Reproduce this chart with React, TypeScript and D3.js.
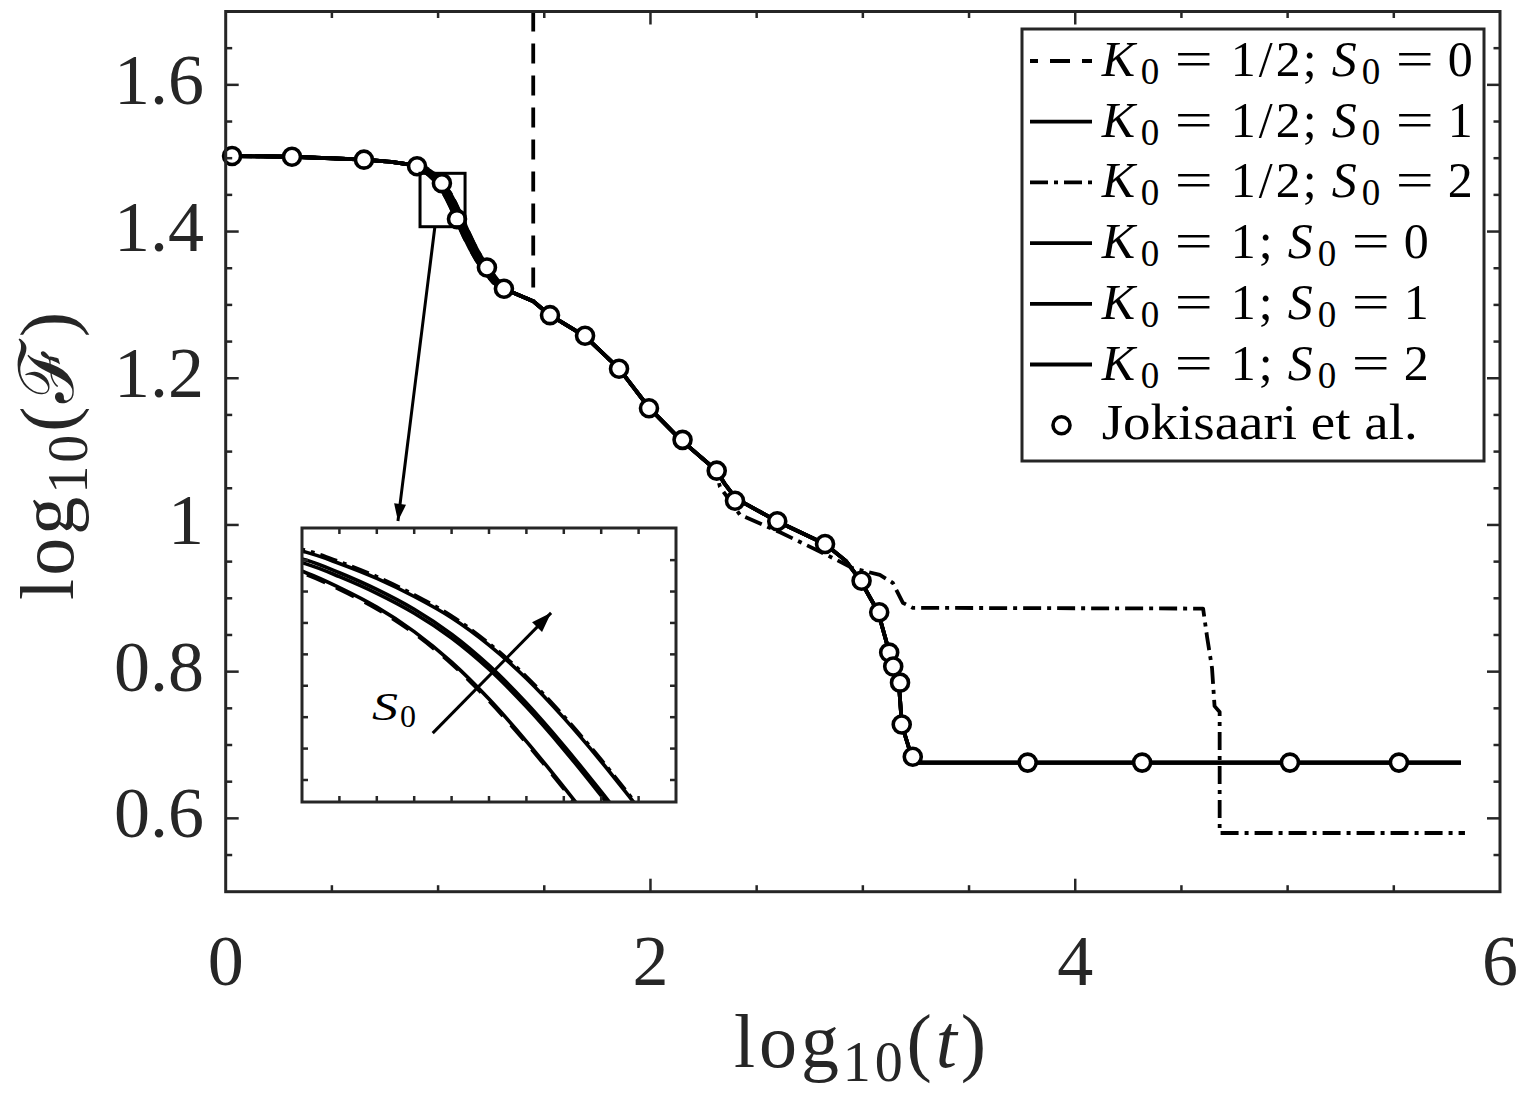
import React from "react";
import * as d3 from "d3";

type Pt = [number, number];

// log10(t) vs log10(F)

// shared flat start, before the S0 curves split
const flatStart: Pt[] = [[0.03, 1.503], [0.312, 1.502], [0.651, 1.498], [0.78, 1.495], [0.86, 1.4915]];

// early decay, one per S0 (K0 = 1)
const earlyK1S0: Pt[] = [[0.9, 1.4875], [0.9421, 1.4806], [0.96, 1.4764], [0.98, 1.4709], [1.0, 1.464], [1.02, 1.4554], [1.04, 1.445], [1.06, 1.4331], [1.08, 1.4202], [1.1, 1.4068], [1.12, 1.394], [1.15, 1.3765], [1.18, 1.3613], [1.22, 1.3443], [1.26, 1.3305]];
const earlyK1S1: Pt[] = [[0.9, 1.4892], [0.9421, 1.4842], [0.96, 1.4806], [0.98, 1.4759], [1.0, 1.4703], [1.02, 1.4633], [1.04, 1.4545], [1.06, 1.4439], [1.08, 1.4319], [1.1, 1.4189], [1.12, 1.4055], [1.14, 1.3927], [1.17, 1.3753], [1.2, 1.3603], [1.24, 1.3435], [1.27, 1.333]];
const earlyK1S2: Pt[] = [[0.9, 1.4908], [0.9421, 1.4864], [0.96, 1.4832], [0.98, 1.479], [1.0, 1.4739], [1.02, 1.4679], [1.04, 1.4602], [1.06, 1.4508], [1.08, 1.4397], [1.1, 1.4274], [1.12, 1.4142], [1.14, 1.401], [1.17, 1.3828], [1.2, 1.3668], [1.24, 1.349], [1.28, 1.3341]];

// early decay, K0 = 1/2
const earlyHalfS0: Pt[] = [[0.9, 1.4871], [0.9421, 1.4801], [0.96, 1.4759], [0.98, 1.4704], [1.0, 1.4635], [1.02, 1.4549], [1.04, 1.4445], [1.06, 1.4326], [1.08, 1.4197], [1.1, 1.4063], [1.12, 1.3935], [1.15, 1.3762], [1.18, 1.3611], [1.22, 1.3442], [1.26, 1.3304]];
const earlyHalfS1: Pt[] = [[0.9, 1.4884], [0.9421, 1.4831], [0.96, 1.4795], [0.98, 1.4748], [1.0, 1.4692], [1.02, 1.4622], [1.04, 1.4534], [1.06, 1.4428], [1.08, 1.4308], [1.1, 1.4178], [1.12, 1.4044], [1.14, 1.3918], [1.17, 1.3746], [1.2, 1.3598], [1.24, 1.3432], [1.27, 1.3328]];
const earlyHalfS2: Pt[] = [[0.9, 1.4912], [0.9421, 1.4869], [0.96, 1.4837], [0.98, 1.4795], [1.0, 1.4744], [1.02, 1.4684], [1.04, 1.4607], [1.06, 1.4513], [1.08, 1.4402], [1.1, 1.4279], [1.12, 1.4147], [1.14, 1.4014], [1.17, 1.3831], [1.2, 1.367], [1.24, 1.3491], [1.28, 1.3342]];

// where all curves coincide
const commonMid: Pt[] = [[1.31, 1.322], [1.448, 1.305], [1.522, 1.287], [1.692, 1.257], [1.852, 1.213], [1.993, 1.16], [2.139, 1.117], [2.308, 1.075], [2.35, 1.056], [2.403, 1.036], [2.596, 1.005], [2.822, 0.974], [2.92, 0.951], [2.987, 0.925], [3.071, 0.882], [3.123, 0.828], [3.142, 0.806], [3.17, 0.782], [3.184, 0.727], [3.231, 0.683], [3.26, 0.676]];
const finalPlateau: Pt[] = [[5.816, 0.676]];

// K0 = 1/2, S0 = 0 blows up
const halfS0BlowUp: Pt[] = [[1.448, 1.75]];
// K0 = 1/2, S0 = 2 leaves the others after t ~ 10^2.3
const halfS2Tail: Pt[] = [[2.327, 1.052], [2.421, 1.014], [2.61, 0.99], [2.831, 0.959], [2.953, 0.941], [3.08, 0.932], [3.141, 0.921], [3.188, 0.894], [3.235, 0.887], [4.602, 0.886], [4.621, 0.847], [4.644, 0.805], [4.656, 0.753], [4.68, 0.745], [4.68, 0.58], [5.835, 0.58]];

// Jokisaari et al.
const jokisaari: Pt[] = [[0.03, 1.503], [0.312, 1.502], [0.651, 1.498], [0.901, 1.489], [1.018, 1.466], [1.089, 1.417], [1.23, 1.351], [1.31, 1.322], [1.527, 1.286], [1.692, 1.258], [1.852, 1.213], [1.993, 1.159], [2.151, 1.116], [2.312, 1.074], [2.398, 1.033], [2.597, 1.005], [2.822, 0.974], [2.994, 0.924], [3.077, 0.881], [3.124, 0.826], [3.143, 0.807], [3.175, 0.785], [3.183, 0.728], [3.235, 0.684], [3.776, 0.676], [4.315, 0.676], [5.011, 0.676], [5.524, 0.676]];

const legendK = ["1/2", "1/2", "1/2", "1", "1", "1"];
const legendS = ["0", "1", "2", "0", "1", "2"];

const xMajor = [0, 2, 4, 6];
const yMajor = [0.6, 0.8, 1, 1.2, 1.4, 1.6];
const yLabels = ["0.6", "0.8", "1", "1.2", "1.4", "1.6"];

const DASH = "20,12";
const DASHDOT = "18,6,4,6";
const INK = "#262626";
const FONT = "'Liberation Serif', 'DejaVu Serif', serif";
const LW = 3.8;

const upTo = (arr: Pt[], xmax: number) => arr.filter(d => d[0] <= xmax);

const seriesList = [
  { data: [...flatStart, ...earlyHalfS0, ...upTo(commonMid, 1.448), ...halfS0BlowUp], dash: DASH },
  { data: [...flatStart, ...earlyHalfS1, ...commonMid, ...finalPlateau], dash: null },
  { data: [...flatStart, ...earlyHalfS2, ...upTo(commonMid, 2.308), ...halfS2Tail], dash: DASHDOT },
  { data: [...flatStart, ...earlyK1S0, ...commonMid, ...finalPlateau], dash: null },
  { data: [...flatStart, ...earlyK1S1, ...commonMid, ...finalPlateau], dash: null },
  { data: [...flatStart, ...earlyK1S2, ...commonMid, ...finalPlateau], dash: null }
];

function arrowHead(x1: number, y1: number, x2: number, y2: number, len: number, half: number) {
  const a = Math.atan2(y2 - y1, x2 - x1);
  const bx = x2 - len * Math.cos(a), by = y2 - len * Math.sin(a);
  const px = -Math.sin(a) * half, py = Math.cos(a) * half;
  return `${x2},${y2} ${bx + px},${by + py} ${bx - px},${by - py}`;
}

function LegendLabel({ x0, base, k, s }: { x0: number; base: number; k: string; s: string }) {
  const wide = k.length === 3;
  const kEnd = x0 + 130 + (wide ? 68 : 24);
  const sx = kEnd + 32;
  const t = { fontFamily: FONT, fill: "#000" };
  return (
    <g>
      <text x={x0} y={base} fontSize={50} fontStyle="italic" {...t}>K</text>
      <text x={x0 + 39} y={base + 8} fontSize={37} {...t}>0</text>
      <text x={x0 + 73} y={base} fontSize={50} textLength={38} lengthAdjust="spacingAndGlyphs" {...t}>=</text>
      {wide ? (
        <text x={x0 + 129} y={base} fontSize={50} textLength={70} lengthAdjust="spacing" {...t}>{k}</text>
      ) : (
        <text x={x0 + 129} y={base} fontSize={50} {...t}>{k}</text>
      )}
      <text x={kEnd + 3} y={base} fontSize={50} {...t}>;</text>
      <text x={sx} y={base} fontSize={50} fontStyle="italic" {...t}>S</text>
      <text x={sx + 30} y={base + 8} fontSize={37} {...t}>0</text>
      <text x={sx + 64} y={base} fontSize={50} textLength={38} lengthAdjust="spacingAndGlyphs" {...t}>=</text>
      <text x={sx + 116} y={base} fontSize={50} {...t}>{s}</text>
    </g>
  );
}

export default function App() {
  const width = 1524, height = 1104;

  const x = d3.scaleLinear().domain([0, 6]).range([225.7, 1500]);
  const y = d3.scaleLinear().domain([0.5, 1.7]).range([891.7, 11.5]);

  const line = d3.line<Pt>().x(d => x(d[0])).y(d => y(d[1]));

  // inset: magnified view of the early decay
  const ix = d3.scaleLinear().domain([0.94, 1.14]).range([302, 676]);
  const iy = d3.scaleLinear().domain([1.416, 1.4932]).range([802, 528]);
  const iline = d3.line<Pt>().x(d => ix(d[0])).y(d => iy(d[1])).curve(d3.curveCatmullRom.alpha(0.5));
  const iXTicks = d3.range(0.96, 1.135, 0.02);
  const iYTicks = d3.range(1.4222, 1.49, 0.00885);

  const xMinor = d3.range(0.5, 6, 0.5).filter(v => !xMajor.includes(v));
  const yMinor = d3.range(0.55, 1.69, 0.05).filter(v => !yMajor.some(m => Math.abs(m - v) < 1e-6));

  const [x0, x1] = x.range();
  const [yb, yt] = y.range();

  const ticksX = (vals: number[], len: number) =>
    vals.map(v => (
      <g key={`x${v}-${len}`}>
        <line x1={x(v)} x2={x(v)} y1={yb} y2={yb - len} />
        <line x1={x(v)} x2={x(v)} y1={yt} y2={yt + len} />
      </g>
    ));
  const ticksY = (vals: number[], len: number) =>
    vals.map(v => (
      <g key={`y${v}-${len}`}>
        <line x1={x0} x2={x0 + len} y1={y(v)} y2={y(v)} />
        <line x1={x1} x2={x1 - len} y1={y(v)} y2={y(v)} />
      </g>
    ));

  // zoom box and arrows (annotation)
  const box = { x: [0.915, 1.127], y: [1.4066, 1.4794] };
  const arrowMain = { from: [0.985, 1.4066], to: [0.811, 1.0054] };
  const arrowInset = { from: [1.0099, 1.4354], to: [1.0732, 1.4693] };

  const am = [x(arrowMain.from[0]), y(arrowMain.from[1]), x(arrowMain.to[0]), y(arrowMain.to[1])];
  const ai = [ix(arrowInset.from[0]), iy(arrowInset.from[1]), ix(arrowInset.to[0]), iy(arrowInset.to[1])];

  const legX = 1022, legY = 29, legW = 462, legH = 432;
  const rowH = 60.7, row0 = 61;

  return (
    <svg width={width} height={height} style={{ position: "absolute", left: 0, top: 0, background: "#fff" }}>
      <defs>
        <clipPath id="plotClip">
          <rect x={x0} y={yt} width={x1 - x0} height={yb - yt} />
        </clipPath>
        <clipPath id="insetClip">
          <rect x={302} y={528} width={374} height={274} />
        </clipPath>
      </defs>
      <rect x={0} y={0} width={width} height={height} fill="#fff" />

      {/* curves */}
      <g clipPath="url(#plotClip)" fill="none" stroke="#000" strokeWidth={LW} strokeLinejoin="round">
        {seriesList.map((s, i) => (
          <path key={i} d={line(s.data) || ""} strokeDasharray={s.dash || undefined} />
        ))}
      </g>
      <g fill="#fff" stroke="#000" strokeWidth={3.6}>
        {jokisaari.map((d, i) => (
          <circle key={i} cx={x(d[0])} cy={y(d[1])} r={8.5} />
        ))}
      </g>

      {/* zoom box + arrow */}
      <rect x={x(box.x[0])} y={y(box.y[1])} width={x(box.x[1]) - x(box.x[0])} height={y(box.y[0]) - y(box.y[1])}
        fill="none" stroke="#000" strokeWidth={3} />
      <line x1={am[0]} y1={am[1]} x2={am[2]} y2={am[3]} stroke="#000" strokeWidth={3} />
      <polygon points={arrowHead(am[0], am[1], am[2], am[3], 17, 6)} fill="#000" />

      {/* inset */}
      <rect x={302} y={528} width={374} height={274} fill="#fff" />
      <g clipPath="url(#insetClip)" fill="none" stroke="#000" strokeWidth={3.6}>
        {seriesList.map((s, i) => (
          <path key={i} d={iline(s.data.filter(d => d[0] > 0.85 && d[0] < 1.3)) || ""} strokeDasharray={s.dash || undefined} />
        ))}
      </g>
      <g stroke={INK} strokeWidth={2.5}>
        {iXTicks.map(v => (
          <g key={`ix${v}`}>
            <line x1={ix(v)} x2={ix(v)} y1={802} y2={796} />
            <line x1={ix(v)} x2={ix(v)} y1={528} y2={534} />
          </g>
        ))}
        {iYTicks.map(v => (
          <g key={`iy${v}`}>
            <line x1={302} x2={308} y1={iy(v)} y2={iy(v)} />
            <line x1={676} x2={670} y1={iy(v)} y2={iy(v)} />
          </g>
        ))}
      </g>
      <rect x={302} y={528} width={374} height={274} fill="none" stroke={INK} strokeWidth={3} />
      <line x1={ai[0]} y1={ai[1]} x2={ai[2]} y2={ai[3]} stroke="#000" strokeWidth={3} />
      <polygon points={arrowHead(ai[0], ai[1], ai[2], ai[3], 20, 7)} fill="#000" />
      <text x={372} y={720} fontSize={39} fontStyle="italic" fontFamily={FONT} textLength={26} lengthAdjust="spacingAndGlyphs">S</text>
      <text x={400} y={727} fontSize={32} fontFamily={FONT}>0</text>

      {/* axes */}
      <g stroke={INK} strokeWidth={2.5}>
        {ticksX(xMajor.slice(1, -1), 13)}
        {ticksX(xMinor, 6.5)}
        {ticksY(yMajor, 13)}
        {ticksY(yMinor, 6.5)}
      </g>
      <rect x={x0} y={yt} width={x1 - x0} height={yb - yt} fill="none" stroke={INK} strokeWidth={3} />

      <g fontFamily={FONT} fontSize={72} fill={INK}>
        {xMajor.map(v => (
          <text key={v} x={x(v)} y={985} textAnchor="middle">{v}</text>
        ))}
        {yMajor.map((v, i) => (
          <text key={v} x={204} y={y(v) + 19} textAnchor="end">{yLabels[i]}</text>
        ))}
      </g>

      <text x={734} y={1067} fontFamily={FONT} fontSize={76} fill={INK} textLength={252} lengthAdjust="spacing">
        log<tspan dy={14} fontSize={56}>10</tspan>
        <tspan dy={-14}>(</tspan>
        <tspan fontStyle="italic">t</tspan>)
      </text>
      <text transform="translate(73,600) rotate(-90)" fontFamily={FONT} fontSize={76} fill={INK} textLength={288} lengthAdjust="spacing">
        log<tspan dy={14} fontSize={56}>10</tspan>
        <tspan dy={-14}>(ℱ)</tspan>
      </text>

      {/* legend */}
      <rect x={legX} y={legY} width={legW} height={legH} fill="#fff" stroke={INK} strokeWidth={3} />
      {legendK.map((k, i) => {
        const cy = row0 + i * rowH;
        const dash = seriesList[i].dash;
        return (
          <g key={i}>
            <line x1={1030} x2={1092} y1={cy} y2={cy} stroke="#000" strokeWidth={LW}
              strokeDasharray={dash || undefined} strokeDashoffset={dash === DASH ? 12 : 0} />
            <LegendLabel x0={1101.7} base={cy + 15} k={k} s={legendS[i]} />
          </g>
        );
      })}
      <circle cx={1061.5} cy={row0 + 6 * rowH} r={8.5} fill="#fff" stroke="#000" strokeWidth={3.6} />
      <text x={1101.7} y={row0 + 6 * rowH + 14} fontSize={50} fontFamily={FONT} textLength={316} lengthAdjust="spacingAndGlyphs">
        Jokisaari et al.
      </text>
    </svg>
  );
}
